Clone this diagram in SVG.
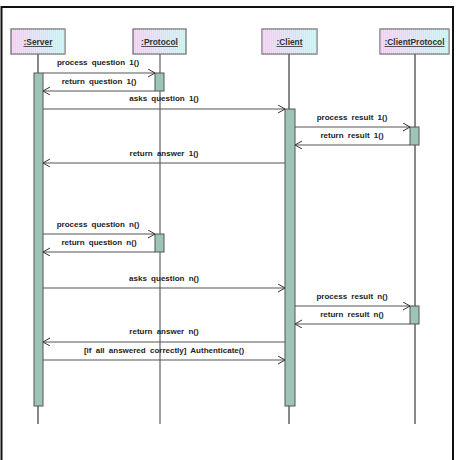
<svg xmlns="http://www.w3.org/2000/svg" width="456" height="460" viewBox="0 0 456 460">
<defs>
<linearGradient id="hg" x1="0" y1="0" x2="1" y2="0">
<stop offset="0" stop-color="#f2cdf2"/>
<stop offset="1" stop-color="#c6f2f2"/>
</linearGradient>
<pattern id="stripes" width="2" height="4" patternUnits="userSpaceOnUse">
<rect x="0" y="0" width="1" height="4" fill="#ffffff" fill-opacity="0.25"/>
</pattern>
<marker id="open" markerWidth="10" markerHeight="10" refX="8" refY="4" orient="auto" markerUnits="userSpaceOnUse">
<path d="M1,0 L8,4 L1,8" fill="none" stroke="#333" stroke-width="1"/>
</marker>
<style>
.hdr{stroke:#666;stroke-width:1.2}
.htxt{font-family:"Liberation Sans",Arial,sans-serif;font-size:8.4px;font-weight:bold;fill:#333;text-anchor:middle;text-decoration:underline}
.life{stroke:#111;stroke-width:1}
.lifeg{stroke:#8a8a8a;stroke-width:1.6}
.act{fill:#9ec3b7;stroke:#555;stroke-width:1}
.msg{stroke:#555;stroke-width:1.1;fill:none;marker-end:url(#open)}
.lbl{font-family:"Liberation Sans",Arial,sans-serif;font-size:8px;font-weight:bold;fill:#222;text-anchor:middle;word-spacing:2px}
</style>
</defs>
<rect x="0" y="0" width="456" height="460" fill="#fff"/>
<rect x="1.5" y="7" width="451.5" height="460" fill="none" stroke="#111" stroke-width="2"/>

<g id="server">
<line class="life" x1="38" y1="54" x2="38" y2="424"/>
<rect class="hdr" x="11" y="29" width="54" height="25" fill="url(#hg)"/>
<rect x="11" y="29" width="54" height="25" fill="url(#stripes)"/>
<text class="htxt" x="38" y="45">:Server</text>
<rect class="act" x="34" y="73" width="9" height="333"/>
</g>
<g id="protocol">
<line class="lifeg" x1="160" y1="54" x2="160" y2="424"/>
<rect class="hdr" x="133" y="29" width="53" height="25" fill="url(#hg)"/>
<rect x="133" y="29" width="53" height="25" fill="url(#stripes)"/>
<text class="htxt" x="159.5" y="45">:Protocol</text>
<rect class="act" x="155" y="73" width="9" height="18"/>
<rect class="act" x="155" y="234" width="9" height="18"/>
</g>
<g id="client">
<line class="life" x1="289" y1="54" x2="289" y2="424"/>
<rect class="hdr" x="262" y="29" width="55" height="25" fill="url(#hg)"/>
<rect x="262" y="29" width="55" height="25" fill="url(#stripes)"/>
<text class="htxt" x="289.5" y="45">:Client</text>
<rect class="act" x="285" y="109" width="10" height="297"/>
</g>
<g id="clientprotocol">
<line class="life" x1="415" y1="54" x2="415" y2="424"/>
<rect class="hdr" x="380" y="29" width="69" height="25" fill="url(#hg)"/>
<rect x="380" y="29" width="69" height="25" fill="url(#stripes)"/>
<text class="htxt" x="414.5" y="45">:ClientProtocol</text>
<rect class="act" x="410" y="127" width="9" height="18"/>
<rect class="act" x="410" y="306" width="9" height="18"/>
</g>

<g id="connectors">
<line class="msg" x1="43" y1="73" x2="155" y2="73"/>
<line class="msg" x1="155" y1="91" x2="43" y2="91"/>
<line class="msg" x1="43" y1="109" x2="285" y2="109"/>
<line class="msg" x1="295" y1="127" x2="410" y2="127"/>
<line class="msg" x1="410" y1="145" x2="295" y2="145"/>
<line class="msg" x1="285" y1="163" x2="43" y2="163"/>
<line class="msg" x1="43" y1="234" x2="155" y2="234"/>
<line class="msg" x1="155" y1="252" x2="43" y2="252"/>
<line class="msg" x1="43" y1="288" x2="285" y2="288"/>
<line class="msg" x1="295" y1="306" x2="410" y2="306"/>
<line class="msg" x1="410" y1="324" x2="295" y2="324"/>
<line class="msg" x1="285" y1="342" x2="43" y2="342"/>
<line class="msg" x1="43" y1="360" x2="285" y2="360"/>
</g>

<g id="labels">
<text class="lbl" x="98" y="65">process question 1()</text>
<text class="lbl" x="99" y="84">return question 1()</text>
<text class="lbl" x="164" y="101">asks question 1()</text>
<text class="lbl" x="352" y="120">process result 1()</text>
<text class="lbl" x="352" y="138">return result 1()</text>
<text class="lbl" x="164" y="156">return answer 1()</text>
<text class="lbl" x="98" y="227">process question n()</text>
<text class="lbl" x="99" y="245">return question n()</text>
<text class="lbl" x="164" y="281">asks question n()</text>
<text class="lbl" x="352" y="299">process result n()</text>
<text class="lbl" x="352" y="317">return result n()</text>
<text class="lbl" x="164" y="334">return answer n()</text>
<text class="lbl" x="164" y="353">[if all answered correctly] Authenticate()</text>
</g>
</svg>
